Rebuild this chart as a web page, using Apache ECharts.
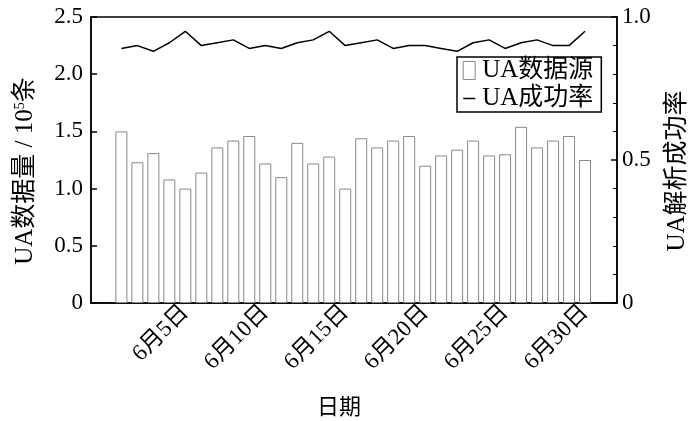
<!DOCTYPE html>
<html>
<head>
<meta charset="utf-8">
<script src="https://cdn.jsdelivr.net/npm/echarts@6/dist/echarts.min.js"></script>
<style>
html,body{margin:0;padding:0;background:#fff;}
#main{width:700px;height:421px;}
</style>
</head>
<body>
<div id="main"></div>
<script>
// 日期(6月几日)
var days = [1,2,3,4,5,6,7,8,9,10,11,12,13,14,15,16,17,18,19,20,21,22,23,24,25,26,27,28,29,30];
// UA数据源, 单位 10^5 条
var uaCount = [1.50,1.23,1.31,1.08,1.00,1.14,1.36,1.42,1.46,1.22,1.10,1.40,1.22,1.28,1.00,
	1.44,1.36,1.42,1.46,1.20,1.29,1.34,1.42,1.29,1.30,1.54,1.36,1.42,1.46,1.25];
// UA解析成功率
var uaRate = [0.89,0.90,0.88,0.91,0.95,0.90,0.91,0.92,0.89,0.90,0.89,0.91,0.92,0.95,0.90,
	0.91,0.92,0.89,0.90,0.90,0.89,0.88,0.91,0.92,0.89,0.91,0.92,0.90,0.90,0.95];
// x轴刻度
var tickDays = [5,10,15,20,25,30];

var font = "'Liberation Serif', 'Times New Roman', 'Noto Sans CJK SC', serif";

function pairs(xs, ys) {
	var out = [];
	for (var i = 0; i < xs.length; i++) out.push([xs[i], ys[i]]);
	return out;
}
function numLabel(v) {
	return v === 0 ? '0' : v.toFixed(1);
}

var myChart = echarts.init(document.getElementById('main'));
var option = {
	animation : false,
	textStyle : { fontFamily : font, color : '#000' },
	grid : {
		left : 91, right : 83, top : 17, bottom : 118,
		outerBoundsMode : 'none',
		containLabel : false,
		show : true, borderColor : '#000', borderWidth : 1.5,
		backgroundColor : 'transparent'
	},
	legend : {
		left : 457, top : 57,
		orient : 'vertical',
		itemWidth : 12, itemHeight : 18,
		itemGap : 3,
		padding : [1, 8, 1, 5],
		borderColor : '#000', borderWidth : 1.5,
		textStyle : { fontFamily : font, fontSize : 25, color : '#000', padding : [0, 0, 0, 2] },
		data : [
			{ name : 'UA数据源', icon : 'rect', itemStyle : { color : '#fff', borderColor : '#888', borderWidth : 1 } },
			{ name : 'UA成功率', itemStyle : { opacity : 0 }, lineStyle : { color : '#000', width : 1.5 } }
		]
	},
	xAxis : {
		type : 'value',
		min : -0.9, max : 32,
		name : '日期',
		nameLocation : 'middle',
		nameGap : 94,
		nameTextStyle : { fontFamily : font, fontSize : 22, color : '#000', padding : [0, 30, 0, 0] },
		axisLine : { onZero : false, lineStyle : { color : '#000', width : 1.5 } },
		axisTick : { inside : true, length : 6, customValues : tickDays, lineStyle : { color : '#000', width : 1.5 } },
		axisLabel : {
			customValues : tickDays,
			rotate : 45, margin : 6,
			fontFamily : font, fontSize : 23, color : '#000',
			formatter : function(v) { return '6月' + v + '日'; }
		},
		splitLine : { show : false }
	},
	yAxis : [
		{
			type : 'value',
			min : 0, max : 2.5, interval : 0.5,
			name : 'UA数据量 / 10{sup|5}条',
			nameLocation : 'middle',
			nameRotate : 90,
			nameGap : 53,
			nameTextStyle : {
				fontFamily : font, fontSize : 25, color : '#000',
				padding : [0, 22, 0, 0],
				rich : { sup : { fontFamily : font, fontSize : 14, verticalAlign : 'top', color : '#000' } }
			},
			axisLine : { show : true, onZero : false, lineStyle : { color : '#000', width : 1.5 } },
			axisTick : { inside : true, length : 6, lineStyle : { color : '#000', width : 1.5 } },
			axisLabel : { margin : 8, fontFamily : font, fontSize : 23, color : '#000', formatter : numLabel },
			splitLine : { show : false }
		},
		{
			type : 'value',
			position : 'right',
			min : 0, max : 1, interval : 0.5,
			name : 'UA解析成功率',
			nameLocation : 'middle',
			nameRotate : 90,
			nameGap : 48,
			nameTextStyle : { fontFamily : font, fontSize : 25, color : '#000', padding : [0, 22, 0, 0] },
			axisLine : { show : true, onZero : false, lineStyle : { color : '#000', width : 1.5 } },
			axisTick : { inside : true, length : 6, lineStyle : { color : '#000', width : 1.5 } },
			minorTick : { show : true, splitNumber : 5, length : 4, lineStyle : { color : '#000', width : 1 } },
			axisLabel : { margin : 5, fontFamily : font, fontSize : 23, color : '#000', formatter : numLabel },
			splitLine : { show : false }
		}
	],
	series : [
		{
			name : 'UA数据源',
			type : 'bar',
			barWidth : 12,
			itemStyle : { color : '#fff', borderColor : '#888', borderWidth : 1 },
			data : pairs(days, uaCount)
		},
		{
			name : 'UA成功率',
			type : 'line',
			yAxisIndex : 1,
			symbol : 'none',
			lineStyle : { color : '#000', width : 1.5 },
			itemStyle : { color : '#000' },
			data : pairs(days, uaRate)
		}
	]
};
myChart.setOption(option);
</script>
</body>
</html>
